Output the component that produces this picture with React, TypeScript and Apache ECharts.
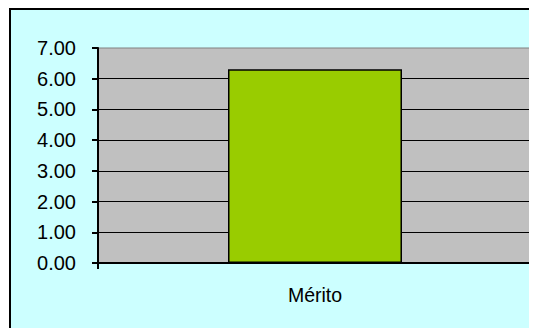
import React, { useEffect, useRef } from "react";
import * as echarts from "echarts";

const categories: string[] = ["Mérito"];
const values: number[] = [6.31];
const yTicks: number[] = [0, 1, 2, 3, 4, 5, 6, 7];

const FONT = "'Liberation Sans', Arial, sans-serif";

export default function App() {
  const ref = useRef<HTMLDivElement>(null);

  useEffect(() => {
    if (!ref.current) return;
    const chart = echarts.init(ref.current, undefined, { renderer: "svg" });
    chart.setOption({
      animation: false,
      backgroundColor: "#ffffff",
      graphic: [
        {
          type: "rect",
          z: -10,
          silent: true,
          shape: { x: 2, y: 1, width: 700, height: 500 },
          style: { fill: "#CCFFFF", stroke: "#000000", lineWidth: 2 },
        },
      ],
      grid: {
        left: 90,
        top: 40,
        right: 5,
        bottom: 65,
        show: true,
        backgroundColor: "#C0C0C0",
        borderColor: "#808080",
        borderWidth: 1,
      },
      xAxis: {
        type: "category",
        data: categories,
        boundaryGap: true,
        axisLine: { show: true, lineStyle: { color: "#000", width: 2 } },
        axisTick: { show: true, length: 6, lineStyle: { color: "#000", width: 2 } },
        axisLabel: { color: "#000", fontSize: 19.5, fontFamily: FONT, margin: 22 },
        splitLine: { show: false },
      },
      yAxis: {
        type: "value",
        min: yTicks[0],
        max: yTicks[yTicks.length - 1],
        interval: 1,
        axisLine: { show: true, lineStyle: { color: "#000", width: 2 } },
        axisTick: { show: true, length: 6, lineStyle: { color: "#000", width: 2 } },
        axisLabel: {
          color: "#000",
          fontSize: 20,
          fontFamily: FONT,
          margin: 22,
          formatter: (v: number) => v.toFixed(2),
        },
        splitLine: {
          show: true,
          showMaxLine: false,
          showMinLine: false,
          lineStyle: { color: "#000", width: 1 },
        },
      },
      series: [
        {
          type: "bar",
          data: values,
          barWidth: 174,
          itemStyle: { color: "#99CC00", borderColor: "#000", borderWidth: 1.5 },
        },
      ],
    });
    return () => chart.dispose();
  }, []);

  return <div ref={ref} style={{ width: 529, height: 320 }} />;
}
